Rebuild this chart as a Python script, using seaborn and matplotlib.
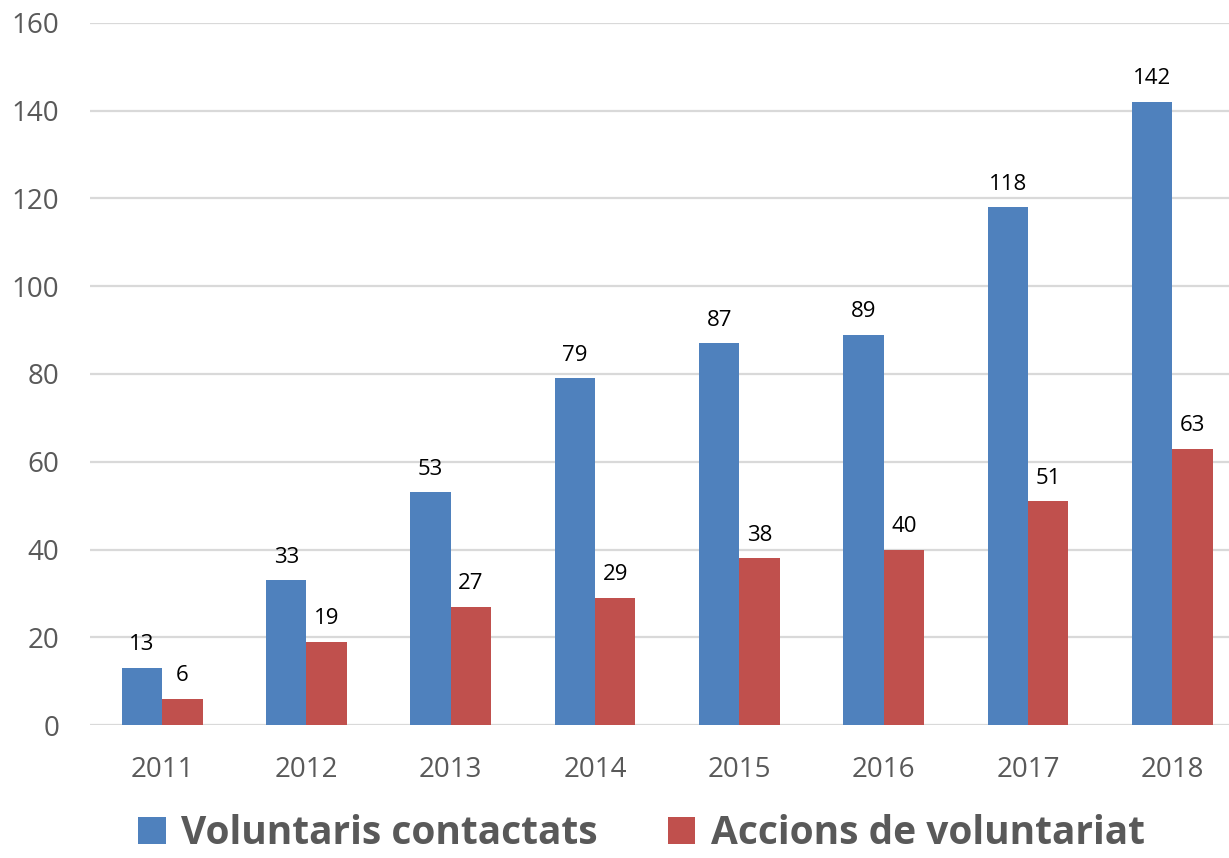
import matplotlib
matplotlib.use("Agg")
import matplotlib.pyplot as plt
from matplotlib.patches import Patch
import pandas as pd
import seaborn as sns

years = ["2011", "2012", "2013", "2014", "2015", "2016", "2017", "2018"]
voluntaris = [13, 33, 53, 79, 87, 89, 118, 142]
accions = [6, 19, 27, 29, 38, 40, 51, 63]
series_names = ["Voluntaris contactats", "Accions de voluntariat"]
colors = ["#4f81bd", "#c0504d"]

df = pd.DataFrame({
    "year": years * 2,
    "value": voluntaris + accions,
    "serie": [series_names[0]] * len(years) + [series_names[1]] * len(years),
})

sns.set_theme(style="white")
plt.rcParams["font.family"] = ["Open Sans", "DejaVu Sans"]

fig = plt.figure(figsize=(12.29, 8.58), dpi=100)
ax = fig.add_axes([90 / 1229, (858 - 725) / 858, 1 - 90 / 1229, (725 - 23) / 858])

sns.barplot(data=df, x="year", y="value", hue="serie", palette=colors,
            width=0.56, gap=0, saturation=1, legend=False, ax=ax, zorder=3,
            linewidth=0, edgecolor="none")

# etiquetes de valor sobre cada barra
for cont in ax.containers:
    ax.bar_label(cont, padding=9, fontsize=16, color="black")

ax.set_ylim(0, 160)
ax.set_yticks(range(0, 161, 20))
ax.set_xlim(-0.5, 7.393)
ax.set_xlabel("")
ax.set_ylabel("")
ax.grid(axis="y", color="#d9d9d9", linewidth=1.6, zorder=0)
ax.set_axisbelow(True)
for s in ax.spines.values():
    s.set_visible(False)
ax.tick_params(axis="both", length=0, labelsize=20, labelcolor="#595959")
ax.tick_params(axis="y", pad=22)
ax.tick_params(axis="x", pad=22)
for t in ax.get_yticklabels():
    t.set_horizontalalignment("right")

handles = [Patch(facecolor=c, edgecolor="none") for c in colors]
leg = fig.legend(handles, series_names, loc="center", bbox_to_anchor=(0.522, 0.028),
                 ncol=2, frameon=False, handlelength=0.7, handleheight=0.7,
                 handletextpad=0.4, columnspacing=1.8,
                 prop={"size": 28, "weight": "bold"})
for t in leg.get_texts():
    t.set_color("#595959")

fig.savefig("out.png", dpi=100)
